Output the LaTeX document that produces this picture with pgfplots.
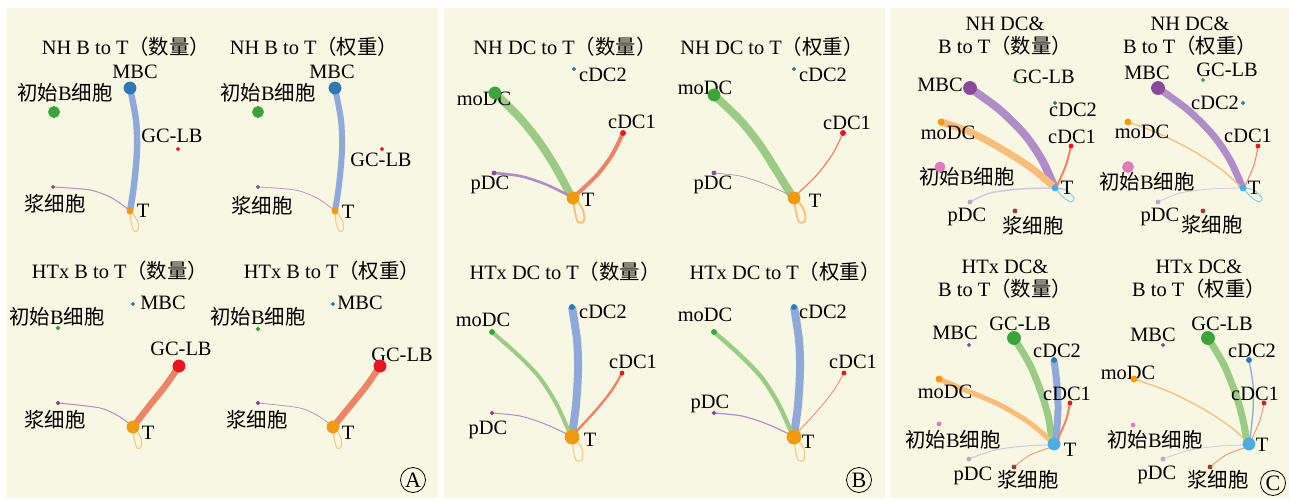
\documentclass[border=0pt]{standalone}
\usepackage{fontspec}
\setmainfont{Liberation Serif}
\newfontfamily\cjk{Noto Sans CJK SC}
\usepackage{pgfplots}
\pgfplotsset{compat=1.18}
\definecolor{bg}{HTML}{F8F7E4}
\definecolor{nblue}{HTML}{2A7AB8}
\definecolor{ngreen}{HTML}{3AA639}
\definecolor{nred}{HTML}{E8141E}
\definecolor{npurp}{HTML}{8E4B9E}
\definecolor{norange}{HTML}{F39A0B}
\definecolor{cmbc}{HTML}{8A4A9C}
\definecolor{cpink}{HTML}{E07BBE}
\definecolor{ctblue}{HTML}{4AAEE6}
\definecolor{cpdc}{HTML}{BBA6D2}
\definecolor{cbrown}{HTML}{9C3A2A}
\definecolor{eblue}{HTML}{8FA9DA}
\definecolor{egreen}{HTML}{9CCB86}
\definecolor{esalmon}{HTML}{EE8465}
\definecolor{epurp}{HTML}{B28CC8}
\definecolor{eorange}{HTML}{F7C47E}
\definecolor{emb}{HTML}{B08DC8}
\definecolor{emo}{HTML}{F8BE78}
\definecolor{epdc}{HTML}{D3C6E6}
\definecolor{ejx}{HTML}{E3A27F}
\definecolor{eloop}{HTML}{8CC8F0}
\newcommand{\cjB}{{\cjk 初始}B{\cjk 细胞}}
\newcommand{\jx}{{\cjk 浆细胞}}
\newcommand{\SL}{{\cjk （数量）}}
\newcommand{\QZ}{{\cjk （权重）}}
\pgfplotsset{nd/.style={only marks, mark=*, mark size=#1},
  ed/.style={smooth, no marks, line width=#1}}
\begin{document}
\begin{tikzpicture}[every node/.style={font=\fontsize{10.2}{11.5}\selectfont, inner sep=0pt}]
\begin{axis}[scale only axis, width=644.5pt, height=249pt,
  xmin=0, xmax=1289, ymin=0, ymax=498, y dir=reverse,
  hide axis, clip=false]
% backgrounds
\addplot[fill=white, draw=none] coordinates {(0,0) (1289,0) (1289,498) (0,498) (0,0)};
\addplot[fill=bg, draw=none] coordinates {(6,8) (438,8) (438,498) (6,498) (6,8)};
\addplot[fill=bg, draw=none] coordinates {(444,8) (885,8) (885,498) (444,498) (444,8)};
\addplot[fill=bg, draw=none] coordinates {(890,8) (1289,8) (1289,498) (890,498) (890,8)};
% ===== D1 NH B count
\addplot[ed=3.2pt, eblue] coordinates {(130,88) (136,120) (137,150) (134,185) (130,211)};
\addplot[ed=0.5pt, epurp] coordinates {(53,187) (90,190) (112,198) (129,210)};
\addplot[ed=0.5pt, eorange] coordinates {(130,211) (131,222) (134,231) (138,230) (138,222) (131,211)};
\addplot[nd=3pt, nblue] coordinates {(130,88)};
\addplot[nd=2.75pt, ngreen] coordinates {(54,112)};
\addplot[nd=0.8pt, nred] coordinates {(178,149)};
\addplot[nd=0.8pt, npurp] coordinates {(53,187)};
\addplot[nd=1.5pt, norange] coordinates {(130,211)};
% ===== D2 NH B weight
\addplot[ed=3pt, eblue] coordinates {(335,88) (341,120) (342,150) (339,185) (335,211)};
\addplot[ed=0.35pt, epurp] coordinates {(258,187) (295,190) (317,198) (334,210)};
\addplot[ed=0.5pt, eorange] coordinates {(335,211) (336,222) (339,231) (343,230) (343,222) (336,211)};
\addplot[nd=3pt, nblue] coordinates {(335,88)};
\addplot[nd=2.75pt, ngreen] coordinates {(258,112)};
\addplot[nd=0.8pt, nred] coordinates {(382,149)};
\addplot[nd=0.8pt, npurp] coordinates {(258,187)};
\addplot[nd=1.5pt, norange] coordinates {(335,211)};
% ===== D3 HTx B count
\addplot[ed=3.2pt, esalmon] coordinates {(179,366) (166,385) (150,405) (133,427)};
\addplot[ed=0.5pt, epurp] coordinates {(58,403) (100,408) (120,417) (132,426)};
\addplot[ed=0.5pt, eorange] coordinates {(133,427) (134,438) (137,448) (141,447) (141,438) (134,427)};
\addplot[nd=0.8pt, nblue] coordinates {(133,304)};
\addplot[nd=0.9pt, ngreen] coordinates {(58,328)};
\addplot[nd=3pt, nred] coordinates {(179,366)};
\addplot[nd=0.9pt, npurp] coordinates {(58,403)};
\addplot[nd=3pt, norange] coordinates {(133,427)};
% ===== D4 HTx B weight
\addplot[ed=3.2pt, esalmon] coordinates {(380,366) (367,385) (351,405) (333,427)};
\addplot[ed=0.35pt, epurp] coordinates {(258,403) (300,408) (320,417) (332,426)};
\addplot[ed=0.5pt, eorange] coordinates {(333,427) (334,438) (337,448) (341,447) (341,438) (334,427)};
\addplot[nd=0.8pt, nblue] coordinates {(333,304)};
\addplot[nd=0.9pt, ngreen] coordinates {(258,329)};
\addplot[nd=3pt, nred] coordinates {(380,366)};
\addplot[nd=0.9pt, npurp] coordinates {(258,403)};
\addplot[nd=3pt, norange] coordinates {(333,427)};
% ===== D5 NH DC count
\addplot[ed=4pt, egreen] coordinates {(495,93) (520,118) (540,143) (556,168) (571,196)};
\addplot[ed=2pt, esalmon] coordinates {(623,133) (612,155) (597,175) (575,196)};
\addplot[ed=1.3pt, epurp] coordinates {(494,173) (520,176) (545,184) (570,196)};
\addplot[ed=1pt, eorange] coordinates {(573,198) (575,212) (578,222) (584,221) (583,210) (575,198)};
\addplot[nd=0.8pt, nblue] coordinates {(574,69)};
\addplot[nd=3pt, ngreen] coordinates {(495,93)};
\addplot[nd=1.25pt, nred] coordinates {(623,133)};
\addplot[nd=1pt, npurp] coordinates {(494,173)};
\addplot[nd=3pt, norange] coordinates {(573,198)};
% ===== D6 NH DC weight
\addplot[ed=4pt, egreen] coordinates {(714,95) (740,120) (760,145) (776,170) (792,196)};
\addplot[ed=0.6pt, esalmon] coordinates {(843,133) (832,155) (815,177) (795,196)};
\addplot[ed=0.35pt, epurp] coordinates {(714,173) (740,176) (765,184) (792,196)};
\addplot[ed=1pt, eorange] coordinates {(794,198) (796,212) (799,222) (805,221) (804,210) (796,198)};
\addplot[nd=0.8pt, nblue] coordinates {(794,69)};
\addplot[nd=3pt, ngreen] coordinates {(714,95)};
\addplot[nd=1.25pt, nred] coordinates {(843,133)};
\addplot[nd=1pt, npurp] coordinates {(714,173)};
\addplot[nd=3pt, norange] coordinates {(794,198)};
% ===== D7 HTx DC count
\addplot[ed=4pt, eblue] coordinates {(572,307) (577,340) (578,370) (576,405) (572,435)};
\addplot[ed=2pt, egreen] coordinates {(492,332) (518,355) (540,378) (557,405) (570,434)};
\addplot[ed=1.2pt, esalmon] coordinates {(622,373) (612,390) (597,409) (574,434)};
\addplot[ed=0.5pt, epurp] coordinates {(492,413) (520,416) (545,424) (569,435)};
\addplot[ed=0.5pt, eorange] coordinates {(572,437) (573,448) (576,460) (582,460) (582,449) (574,437)};
\addplot[nd=1.25pt, nblue] coordinates {(572,307)};
\addplot[nd=1.25pt, ngreen] coordinates {(492,332)};
\addplot[nd=1pt, nred] coordinates {(622,373)};
\addplot[nd=0.9pt, npurp] coordinates {(492,413)};
\addplot[nd=3.5pt, norange] coordinates {(572,437)};
% ===== D8 HTx DC weight
\addplot[ed=4pt, eblue] coordinates {(794,307) (799,340) (800,370) (798,405) (794,435)};
\addplot[ed=2.2pt, egreen] coordinates {(714,332) (740,355) (762,378) (779,405) (792,434)};
\addplot[ed=0.4pt, esalmon] coordinates {(844,373) (834,390) (819,409) (796,434)};
\addplot[ed=0.6pt, epurp] coordinates {(714,413) (742,416) (767,424) (791,435)};
\addplot[ed=0.5pt, eorange] coordinates {(794,437) (795,448) (798,460) (804,460) (804,449) (796,437)};
\addplot[nd=1.25pt, nblue] coordinates {(794,307)};
\addplot[nd=1.25pt, ngreen] coordinates {(714,332)};
\addplot[nd=1pt, nred] coordinates {(844,373)};
\addplot[nd=0.9pt, npurp] coordinates {(714,413)};
\addplot[nd=3.5pt, norange] coordinates {(794,437)};
% ===== D9 NH DC&B count
\addplot[ed=4pt, emb] coordinates {(970,88) (1000,110) (1025,135) (1042,160) (1054,186)};
\addplot[ed=3.5pt, emo] coordinates {(941,122) (970,132) (1000,148) (1030,167) (1053,186)};
\addplot[ed=1pt, esalmon] coordinates {(1071,146) (1066,165) (1057,186)};
\addplot[ed=0.75pt, epdc] coordinates {(970,202) (990,193) (1020,189) (1053,188)};
\addplot[ed=0.5pt, eloop] coordinates {(1055,188) (1063,197) (1071,202) (1074,198) (1066,190) (1056,188)};
\addplot[nd=3.25pt, cmbc] coordinates {(970,88)};
\addplot[nd=0.8pt, ngreen] coordinates {(1015,80)};
\addplot[nd=0.8pt, nblue] coordinates {(1055,103)};
\addplot[nd=1.5pt, norange] coordinates {(941,122)};
\addplot[nd=1pt, nred] coordinates {(1071,146)};
\addplot[nd=2.5pt, cpink] coordinates {(940,167)};
\addplot[nd=1.5pt, ctblue] coordinates {(1055,188)};
\addplot[nd=1pt, cpdc] coordinates {(970,202)};
\addplot[nd=1pt, cbrown] coordinates {(1015,211)};
% ===== D10 NH DC&B weight
\addplot[ed=3.5pt, emb] coordinates {(1158,88) (1188,110) (1213,135) (1230,160) (1242,186)};
\addplot[ed=0.65pt, emo] coordinates {(1128,122) (1160,134) (1195,152) (1222,170) (1241,187)};
\addplot[ed=0.5pt, esalmon] coordinates {(1258,146) (1254,165) (1245,186)};
\addplot[ed=0.4pt, epdc] coordinates {(1158,202) (1180,193) (1210,189) (1241,188)};
\addplot[ed=0.5pt, eloop] coordinates {(1243,188) (1251,197) (1259,202) (1262,198) (1254,190) (1244,188)};
\addplot[nd=3.25pt, cmbc] coordinates {(1158,88)};
\addplot[nd=0.8pt, ngreen] coordinates {(1203,80)};
\addplot[nd=0.8pt, nblue] coordinates {(1243,103)};
\addplot[nd=1.5pt, norange] coordinates {(1128,122)};
\addplot[nd=1pt, nred] coordinates {(1258,146)};
\addplot[nd=2.75pt, cpink] coordinates {(1128,167)};
\addplot[nd=1.5pt, ctblue] coordinates {(1243,188)};
\addplot[nd=1pt, cpdc] coordinates {(1158,202)};
\addplot[nd=1pt, cbrown] coordinates {(1203,211)};
% ===== D11 HTx DC&B count
\addplot[ed=3.5pt, egreen] coordinates {(1014,338) (1030,365) (1042,395) (1049,420) (1052,442)};
\addplot[ed=3.5pt, eblue] coordinates {(1054,360) (1057,385) (1058,410) (1056,440)};
\addplot[ed=2.5pt, emo] coordinates {(939,379) (970,392) (1000,405) (1030,423) (1052,442)};
\addplot[ed=1pt, esalmon] coordinates {(1070,403) (1066,420) (1057,441)};
\addplot[ed=0.5pt, epdc] coordinates {(969,459) (995,450) (1025,446) (1052,445)};
\addplot[ed=0.5pt, ejx] coordinates {(1014,467) (1030,455) (1052,447)};
\addplot[nd=0.8pt, cmbc] coordinates {(969,345)};
\addplot[nd=3.25pt, ngreen] coordinates {(1014,338)};
\addplot[nd=1.25pt, nblue] coordinates {(1054,360)};
\addplot[nd=1.5pt, norange] coordinates {(939,379)};
\addplot[nd=1pt, nred] coordinates {(1070,403)};
\addplot[nd=1pt, cpink] coordinates {(939,424)};
\addplot[nd=3pt, ctblue] coordinates {(1054,444)};
\addplot[nd=1pt, cpdc] coordinates {(969,459)};
\addplot[nd=1pt, cbrown] coordinates {(1014,467)};
% ===== D12 HTx DC&B weight
\addplot[ed=3.5pt, egreen] coordinates {(1208,338) (1224,365) (1236,395) (1243,420) (1247,442)};
\addplot[ed=0.65pt, eblue] coordinates {(1249,360) (1253,385) (1253,410) (1250,440)};
\addplot[ed=0.65pt, emo] coordinates {(1134,379) (1170,392) (1205,410) (1232,428) (1247,442)};
\addplot[ed=0.4pt, esalmon] coordinates {(1264,403) (1260,420) (1251,441)};
\addplot[ed=0.4pt, epdc] coordinates {(1163,459) (1190,450) (1220,446) (1247,445)};
\addplot[ed=0.5pt, ejx] coordinates {(1210,467) (1226,455) (1247,447)};
\addplot[nd=0.8pt, cmbc] coordinates {(1163,345)};
\addplot[nd=3.25pt, ngreen] coordinates {(1208,338)};
\addplot[nd=1.25pt, nblue] coordinates {(1249,360)};
\addplot[nd=1.5pt, norange] coordinates {(1134,379)};
\addplot[nd=1pt, nred] coordinates {(1264,403)};
\addplot[nd=1pt, cpink] coordinates {(1133,425)};
\addplot[nd=3pt, ctblue] coordinates {(1249,444)};
\addplot[nd=1pt, cpdc] coordinates {(1163,459)};
\addplot[nd=1pt, cbrown] coordinates {(1210,467)};
% ===== titles
\node at (axis cs:126,47) {NH B to T\SL};
\node at (axis cs:314,47) {NH B to T\QZ};
\node at (axis cs:120,271) {HTx B to T\SL};
\node at (axis cs:332,271) {HTx B to T\QZ};
\node at (axis cs:565,47) {NH DC to T\SL};
\node at (axis cs:772,47) {NH DC to T\QZ};
\node at (axis cs:565,272) {HTx DC to T\SL};
\node at (axis cs:785,272) {HTx DC to T\QZ};
\node[align=center] at (axis cs:1005,36) {NH DC\&\\B to T\SL};
\node[align=center] at (axis cs:1190,36) {NH DC\&\\B to T\QZ};
\node[align=center] at (axis cs:1005,279) {HTx DC\&\\B to T\SL};
\node[align=center] at (axis cs:1199,279) {HTx DC\&\\B to T\QZ};
% ===== labels D1
\node at (axis cs:135,72) {MBC};
\node at (axis cs:65,93) {\cjB};
\node at (axis cs:172,136) {GC-LB};
\node at (axis cs:55,204) {\jx};
\node at (axis cs:143,211) {T};
% D2
\node at (axis cs:332,72) {MBC};
\node at (axis cs:268,93) {\cjB};
\node at (axis cs:381,160) {GC-LB};
\node at (axis cs:262,206) {\jx};
\node at (axis cs:348,212) {T};
% D3
\node at (axis cs:163,303) {MBC};
\node at (axis cs:57,317) {\cjB};
\node at (axis cs:181,349) {GC-LB};
\node at (axis cs:55,420) {\jx};
\node at (axis cs:148,433) {T};
% D4
\node at (axis cs:360,303) {MBC};
\node at (axis cs:258,317) {\cjB};
\node at (axis cs:402,355) {GC-LB};
\node at (axis cs:257,420) {\jx};
\node at (axis cs:348,433) {T};
% D5
\node at (axis cs:603,75) {cDC2};
\node at (axis cs:484,99) {moDC};
\node at (axis cs:632,122) {cDC1};
\node at (axis cs:490,185) {pDC};
\node at (axis cs:588,200) {T};
% D6
\node at (axis cs:823,75) {cDC2};
\node at (axis cs:705,88) {moDC};
\node at (axis cs:847,123) {cDC1};
\node at (axis cs:713,185) {pDC};
\node at (axis cs:815,201) {T};
% D7
\node at (axis cs:603,312) {cDC2};
\node at (axis cs:483,320) {moDC};
\node at (axis cs:633,362) {cDC1};
\node at (axis cs:488,430) {pDC};
\node at (axis cs:590,440) {T};
% D8
\node at (axis cs:823,312) {cDC2};
\node at (axis cs:705,315) {moDC};
\node at (axis cs:853,362) {cDC1};
\node at (axis cs:710,404) {pDC};
\node at (axis cs:808,442) {T};
% D9
\node at (axis cs:940,85) {MBC};
\node at (axis cs:1044,77) {GC-LB};
\node at (axis cs:1073,110) {cDC2};
\node at (axis cs:948,133) {moDC};
\node at (axis cs:1072,137) {cDC1};
\node at (axis cs:967,177) {\cjB};
\node at (axis cs:1067,188) {T};
\node at (axis cs:967,217) {pDC};
\node at (axis cs:1033,226) {\jx};
% D10
\node at (axis cs:1147,73) {MBC};
\node at (axis cs:1227,70) {GC-LB};
\node at (axis cs:1215,103) {cDC2};
\node at (axis cs:1142,132) {moDC};
\node at (axis cs:1248,136) {cDC1};
\node at (axis cs:1147,182) {\cjB};
\node at (axis cs:1254,188) {T};
\node at (axis cs:1160,217) {pDC};
\node at (axis cs:1212,225) {\jx};
% D11
\node at (axis cs:955,333) {MBC};
\node at (axis cs:1020,324) {GC-LB};
\node at (axis cs:1057,351) {cDC2};
\node at (axis cs:945,392) {moDC};
\node at (axis cs:1067,394) {cDC1};
\node at (axis cs:953,440) {\cjB};
\node at (axis cs:1070,450) {T};
\node at (axis cs:973,476) {pDC};
\node at (axis cs:1028,480) {\jx};
% D12
\node at (axis cs:1153,335) {MBC};
\node at (axis cs:1222,324) {GC-LB};
\node at (axis cs:1252,351) {cDC2};
\node at (axis cs:1128,373) {moDC};
\node at (axis cs:1255,394) {cDC1};
\node at (axis cs:1155,440) {\cjB};
\node at (axis cs:1262,445) {T};
\node at (axis cs:1157,475) {pDC};
\node at (axis cs:1218,480) {\jx};
% circled letters
\node[draw, circle, minimum size=12.5pt, line width=0.4pt, font=\fontsize{11}{12}\selectfont] at (axis cs:413,480) {A};
\node[draw, circle, minimum size=12.5pt, line width=0.4pt, font=\fontsize{11}{12}\selectfont] at (axis cs:859,480) {B};
\node[draw, circle, minimum size=12.5pt, line width=0.4pt, font=\fontsize{11}{12}\selectfont] at (axis cs:1273,483) {C};
\end{axis}
\end{tikzpicture}
\end{document}
